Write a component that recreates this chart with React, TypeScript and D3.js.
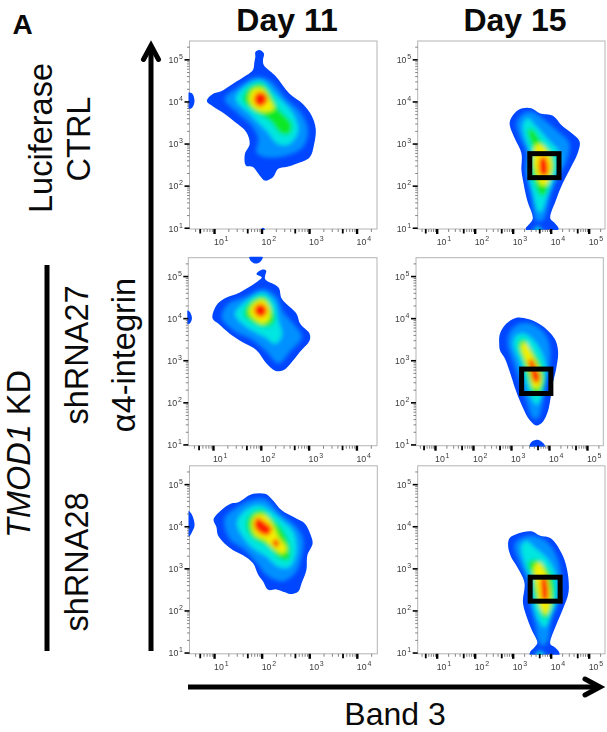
import React, { useEffect, useRef } from 'react';
import * as d3 from 'd3';

type Pt = [number, number];
type Ring = [number, Pt[]];

// all contour points are [log10 Band 3, log10 a4-integrin]
const levelColors = ['#0044ff', '#0090ff', '#00e6e0', '#08e828', '#f4f000', '#ff1e00'];
const decadeLabels = [1, 2, 3, 4, 5];
const day11XDomain: Pt = [0.484, 4.43];
const day15XDomain: Pt = [0.5, 5.43];
const yDomain: Pt = [0.97, 5.436];

// Luciferase CTRL, day 11
const ctrl11Outer: Pt[] = [[0.85,4.01],[0.98,4.18],[1.15,4.24],[1.40,4.42],[1.68,4.62],[1.82,4.75],[1.85,4.94],[1.87,5.06],[1.87,5.17],[1.95,5.22],[2.05,5.14],[2.03,4.98],[2.05,4.86],[2.28,4.62],[2.59,4.18],[2.87,3.94],[3.05,3.67],[3.14,3.35],[3.10,2.95],[3.01,2.67],[2.73,2.52],[2.52,2.44],[2.35,2.40],[2.24,2.20],[2.07,2.12],[1.96,2.24],[1.82,2.44],[1.67,2.48],[1.65,2.75],[1.75,2.99],[1.68,3.27],[1.44,3.51],[1.22,3.71],[0.98,3.88]];
const ctrl11Rings: Ring[] = [
  [1, [[1.22,4.06],[1.51,4.34],[1.89,4.58],[2.17,4.50],[2.52,4.06],[2.84,3.71],[2.98,3.31],[2.87,2.91],[2.52,2.71],[2.10,2.67],[1.89,2.79],[1.93,3.11],[1.79,3.43],[1.51,3.71]]],
  [2, [[1.46,4.06],[1.68,4.38],[2.00,4.50],[2.28,4.18],[2.66,3.71],[2.77,3.31],[2.59,2.99],[2.35,2.99],[2.10,3.31],[1.75,3.71]]],
  [3, [[1.61,4.06],[1.75,4.34],[2.00,4.42],[2.21,4.14],[2.35,3.83],[2.63,3.47],[2.59,3.23],[2.42,3.23],[2.17,3.55],[1.82,3.79]]],
  [4, [[1.74,4.06],[1.82,4.28],[2.02,4.30],[2.17,4.06],[2.26,3.83],[2.10,3.75],[1.86,3.83]]],
  [5, [[1.84,4.08],[1.93,4.22],[2.07,4.18],[2.12,4.02],[2.00,3.88],[1.88,3.93]]],
];
const ctrl11Extras: Pt[][] = [
  [[0.40,4.21],[0.47,4.21],[0.54,4.19],[0.59,4.01],[0.54,3.85],[0.47,3.82],[0.40,3.82]],
  [[1.99,0.9],[1.99,0.96],[2.03,1.0],[2.07,0.96],[2.07,0.9]],
];

// Luciferase CTRL, day 15
const ctrl15Outer: Pt[] = [[2.92,3.48],[3.01,3.68],[3.23,3.83],[3.49,3.84],[3.71,3.72],[4.06,3.66],[4.28,3.44],[4.49,3.29],[4.76,3.05],[4.71,2.77],[4.54,2.45],[4.32,2.06],[4.14,1.66],[3.99,1.22],[4.10,1.12],[4.21,0.97],[4.06,0.90],[3.49,0.90],[3.34,0.97],[3.45,1.10],[3.53,1.22],[3.38,1.66],[3.27,2.13],[3.23,2.37],[3.23,2.77],[3.05,3.13]];
const ctrl15Rings: Ring[] = [
  [1, [[3.10,3.48],[3.23,3.68],[3.49,3.76],[3.84,3.56],[4.19,3.29],[4.49,3.01],[4.41,2.57],[4.19,2.21],[4.01,1.82],[3.88,1.34],[3.79,1.17],[3.62,1.17],[3.53,1.50],[3.45,1.90],[3.36,2.37],[3.36,2.81],[3.18,3.17]]],
  [2, [[3.27,3.44],[3.40,3.60],[3.58,3.44],[3.93,3.09],[4.23,2.77],[4.19,2.37],[4.01,1.98],[3.88,1.66],[3.75,1.38],[3.68,1.38],[3.53,1.82],[3.40,2.29],[3.45,2.77],[3.31,3.17]]],
  [3, [[3.40,3.33],[3.53,3.33],[3.75,3.05],[4.01,2.77],[4.10,2.45],[3.97,2.10],[3.84,1.78],[3.72,1.78],[3.58,2.06],[3.49,2.53],[3.53,2.85]]],
  [4, [[3.62,2.97],[3.75,2.97],[4.01,2.65],[4.01,2.29],[3.88,2.02],[3.75,2.02],[3.62,2.29],[3.55,2.61]]],
  [5, [[3.73,2.65],[3.84,2.69],[3.93,2.49],[3.90,2.25],[3.75,2.25],[3.69,2.45]]],
  [2, [[3.62,1.02],[3.72,1.0],[3.80,0.92],[3.55,0.92]]],
];
const ctrl15Gate = [3.45, 4.22, 2.19, 2.76];

// shRNA27, day 11
const sh27d11Outer: Pt[] = [[0.99,4.00],[1.07,4.30],[1.25,4.47],[1.56,4.61],[1.95,4.89],[2.02,4.97],[1.91,5.05],[2.02,5.15],[2.11,5.13],[2.09,4.93],[2.37,4.73],[2.44,4.46],[2.75,4.10],[2.82,3.87],[3.02,3.63],[3.02,3.47],[2.82,3.20],[2.65,2.96],[2.47,2.76],[2.30,2.75],[2.12,2.92],[1.91,3.24],[1.63,3.42],[1.35,3.63],[1.11,3.87]];
const sh27d11Rings: Ring[] = [
  [1, [[1.18,4.02],[1.32,4.34],[1.67,4.50],[2.05,4.69],[2.33,4.50],[2.47,4.14],[2.68,3.87],[2.86,3.55],[2.61,3.20],[2.37,2.92],[2.12,3.20],[1.84,3.47],[1.42,3.71]]],
  [2, [[1.46,4.10],[1.67,4.38],[2.05,4.60],[2.28,4.38],[2.37,3.94],[2.44,3.59],[2.30,3.39],[2.09,3.55],[1.70,3.79]]],
  [3, [[1.65,4.10],[1.77,4.38],[2.05,4.52],[2.21,4.30],[2.28,3.91],[2.09,3.79],[1.81,3.91]]],
  [4, [[1.76,4.14],[1.86,4.36],[2.05,4.44],[2.18,4.26],[2.17,3.98],[2.05,3.87],[1.86,3.98]]],
  [5, [[1.86,4.22],[1.98,4.34],[2.11,4.26],[2.12,4.13],[2.02,4.02],[1.90,4.08]]],
];
const sh27d11Extras: Pt[][] = [
  [[1.76,5.46],[1.79,5.36],[1.88,5.30],[1.98,5.33],[2.04,5.46]],
  [[0.40,4.18],[0.47,4.18],[0.52,4.14],[0.56,4.0],[0.52,3.88],[0.47,3.86],[0.40,3.86]],
];

// shRNA27, day 15
const sh27d15Outer: Pt[] = [[2.69,3.39],[2.71,3.63],[2.88,3.87],[3.14,4.01],[3.45,3.98],[3.80,3.83],[4.15,3.51],[4.24,3.20],[4.19,2.80],[4.11,2.49],[4.04,2.09],[3.97,1.78],[3.84,1.54],[3.67,1.45],[3.49,1.58],[3.32,1.86],[3.14,2.25],[3.01,2.61],[2.84,3.04],[2.71,3.24]];
const sh27d15Rings: Ring[] = [
  [1, [[2.91,3.39],[2.97,3.67],[3.23,3.87],[3.54,3.87],[3.89,3.63],[4.02,3.35],[4.02,2.88],[3.89,2.41],[3.84,2.02],[3.71,1.62],[3.58,1.62],[3.41,2.02],[3.23,2.49],[3.06,2.96]]],
  [2, [[3.06,3.39],[3.14,3.59],[3.36,3.63],[3.67,3.39],[3.89,2.96],[3.93,2.57],[3.84,2.21],[3.67,1.94],[3.49,2.21],[3.36,2.57],[3.23,2.96]]],
  [3, [[3.19,3.39],[3.32,3.51],[3.49,3.31],[3.76,2.96],[3.87,2.57],[3.80,2.29],[3.62,2.17],[3.47,2.49],[3.32,2.96]]],
  [4, [[3.27,3.35],[3.36,3.42],[3.54,3.16],[3.73,2.80],[3.80,2.53],[3.71,2.33],[3.58,2.37],[3.49,2.72],[3.36,3.04]]],
  [5, [[3.47,3.00],[3.55,3.02],[3.69,2.76],[3.76,2.61],[3.69,2.45],[3.58,2.53],[3.52,2.76]]],
];
const sh27d15Extras: Pt[][] = [
  [[3.49,0.9],[3.49,0.98],[3.54,1.06],[3.69,1.11],[3.84,1.04],[3.89,0.98],[3.89,0.9]],
];
const sh27d15Gate = [3.28, 4.05, 2.21, 2.79];

// shRNA28, day 11
const sh28d11Outer: Pt[] = [[0.99,4.16],[1.15,4.38],[1.36,4.54],[1.51,4.57],[1.79,4.76],[2.07,4.77],[2.21,4.65],[2.42,4.38],[2.70,4.20],[2.91,4.06],[3.03,3.79],[3.07,3.59],[2.96,3.31],[2.94,2.96],[2.84,2.65],[2.77,2.45],[2.59,2.39],[2.49,2.43],[2.31,2.50],[2.14,2.49],[2.03,2.69],[1.93,2.84],[1.82,3.12],[1.61,3.31],[1.40,3.43],[1.22,3.59],[1.08,3.79],[1.05,3.98]];
const sh28d11Rings: Ring[] = [
  [1, [[1.22,4.18],[1.44,4.42],[1.75,4.61],[2.07,4.65],[2.35,4.34],[2.70,4.02],[2.87,3.71],[2.84,3.28],[2.70,2.88],[2.42,2.69],[2.10,2.84],[1.93,3.08],[1.65,3.43],[1.32,3.71]]],
  [2, [[1.48,4.06],[1.62,4.34],[1.93,4.50],[2.17,4.38],[2.42,4.14],[2.66,3.87],[2.73,3.43],[2.59,3.04],[2.35,3.04],[2.10,3.28],[1.75,3.55]]],
  [3, [[1.68,4.06],[1.79,4.30],[2.00,4.39],[2.17,4.22],[2.42,3.94],[2.59,3.51],[2.56,3.20],[2.38,3.24],[2.14,3.51],[1.79,3.75]]],
  [4, [[1.79,4.06],[1.88,4.26],[2.07,4.26],[2.24,4.02],[2.35,3.75],[2.52,3.47],[2.45,3.35],[2.28,3.45],[2.07,3.67],[1.86,3.79]]],
  [5, [[1.84,4.02],[1.91,4.20],[2.07,4.10],[2.21,3.94],[2.14,3.79],[1.96,3.84]]],
  [5, [[2.23,3.63],[2.30,3.69],[2.37,3.59],[2.30,3.50]]],
];
const sh28d11Extras: Pt[][] = [
  [[0.40,4.36],[0.47,4.36],[0.54,4.26],[0.59,4.02],[0.54,3.87],[0.47,3.75],[0.40,3.75]],
];

// shRNA28, day 15
const sh28d15Outer: Pt[] = [[2.88,3.53],[2.92,3.72],[3.14,3.83],[3.49,3.88],[3.71,3.78],[4.01,3.71],[4.28,3.37],[4.43,2.98],[4.47,2.43],[4.32,2.03],[4.14,1.64],[3.99,1.20],[4.10,1.13],[4.23,0.99],[4.19,0.85],[3.49,0.85],[3.45,0.99],[3.58,1.13],[3.65,1.23],[3.49,1.56],[3.36,1.87],[3.27,2.19],[3.31,2.66],[3.10,3.06],[2.95,3.29]];
const sh28d15Rings: Ring[] = [
  [1, [[3.05,3.57],[3.23,3.72],[3.53,3.78],[3.93,3.61],[4.19,3.21],[4.28,2.66],[4.19,2.19],[4.01,1.80],[3.93,1.28],[3.79,1.15],[3.68,1.28],[3.58,1.72],[3.47,2.11],[3.40,2.66],[3.18,3.13]]],
  [2, [[3.23,3.53],[3.36,3.65],[3.58,3.49],[3.93,3.21],[4.14,2.82],[4.17,2.35],[4.06,1.95],[3.84,1.60],[3.66,1.80],[3.53,2.19],[3.49,2.66],[3.31,3.13]]],
  [3, [[3.40,3.09],[3.58,3.21],[3.84,3.06],[4.06,2.74],[4.08,2.27],[3.97,1.95],[3.84,1.80],[3.71,2.03],[3.56,2.43],[3.53,2.82]]],
  [4, [[3.58,3.06],[3.71,3.13],[3.86,2.90],[3.97,2.54],[3.99,2.15],[3.88,1.91],[3.75,2.03],[3.65,2.43]]],
  [5, [[3.75,2.74],[3.84,2.82],[3.93,2.54],[3.90,2.23],[3.79,2.27],[3.75,2.50]]],
  [2, [[3.66,1.02],[3.78,1.02],[3.84,0.92],[3.60,0.92]]],
];
const sh28d15Gate = [3.46, 4.25, 2.22, 2.79];

const App = () => {
  const ref = useRef<SVGSVGElement>(null);

  useEffect(() => {
    drawChart();
  }, []);

  const drawChart = () => {
    const svg = d3.select(ref.current);
    svg.selectAll('*').remove();
    const font = '"Liberation Sans", Arial, sans-serif';

    const defs = svg.append('defs');
    const blur = (id: string, dev: number) =>
      defs.append('filter').attr('id', id)
        .attr('x', '-30%').attr('y', '-30%').attr('width', '160%').attr('height', '160%')
        .append('feGaussianBlur').attr('stdDeviation', dev);
    blur('heat', 2.2);
    blur('soft', 0.5);
    blur('tick', 0.35);

    const panels = [
      { id: 'a', left: 189.5, right: 377, top: 41, xd: day11XDomain, outer: ctrl11Outer, rings: ctrl11Rings, extras: ctrl11Extras, gate: null },
      { id: 'b', left: 417.7, right: 605, top: 41, xd: day15XDomain, outer: ctrl15Outer, rings: ctrl15Rings, extras: [], gate: ctrl15Gate },
      { id: 'c', left: 188.3, right: 377, top: 257.7, xd: day11XDomain, outer: sh27d11Outer, rings: sh27d11Rings, extras: sh27d11Extras, gate: null },
      { id: 'd', left: 416, right: 603.3, top: 257.7, xd: day15XDomain, outer: sh27d15Outer, rings: sh27d15Rings, extras: sh27d15Extras, gate: sh27d15Gate },
      { id: 'e', left: 189.5, right: 377.3, top: 465.8, xd: day11XDomain, outer: sh28d11Outer, rings: sh28d11Rings, extras: sh28d11Extras, gate: null },
      { id: 'f', left: 417.7, right: 605, top: 465.8, xd: day15XDomain, outer: sh28d15Outer, rings: sh28d15Rings, extras: [], gate: sh28d15Gate },
    ];
    const panelHeight = 188;

    panels.forEach(p => {
      const x = d3.scaleLog().domain([10 ** p.xd[0], 10 ** p.xd[1]]).range([p.left, p.right]);
      const y = d3.scaleLog().domain([10 ** yDomain[0], 10 ** yDomain[1]]).range([p.top + panelHeight, p.top]);
      const line = d3.line<Pt>()
        .x(d => x(10 ** d[0]))
        .y(d => y(10 ** d[1]))
        .curve(d3.curveCatmullRomClosed.alpha(0.5));

      const g = svg.append('g');
      g.append('rect')
        .attr('x', p.left).attr('y', p.top)
        .attr('width', p.right - p.left).attr('height', panelHeight)
        .attr('fill', '#fff').attr('stroke', '#b4b4b4').attr('stroke-width', 1);

      defs.append('clipPath').attr('id', `frame-${p.id}`)
        .append('rect')
        .attr('x', p.left - 1).attr('y', p.top - 1)
        .attr('width', p.right - p.left + 2).attr('height', panelHeight + 2);
      defs.append('clipPath').attr('id', `outer-${p.id}`)
        .append('path').attr('d', line(p.outer));

      const plot = g.append('g').attr('clip-path', `url(#frame-${p.id})`);
      const blue = plot.append('g').attr('filter', 'url(#soft)');
      blue.append('path').attr('d', line(p.outer)).attr('fill', levelColors[0]);
      p.extras.forEach(e => {
        blue.append('path').attr('d', line(e)).attr('fill', levelColors[0]);
      });

      const heat = plot.append('g').attr('clip-path', `url(#outer-${p.id})`)
        .append('g').attr('filter', 'url(#heat)');
      p.rings.forEach(([level, pts]) => {
        heat.append('path').attr('d', line(pts)).attr('fill', levelColors[level]);
      });

      // gate box
      if (p.gate) {
        const [x0, x1, y0, y1] = p.gate;
        g.append('rect')
          .attr('x', x(10 ** x0)).attr('y', y(10 ** y1))
          .attr('width', x(10 ** x1) - x(10 ** x0))
          .attr('height', y(10 ** y0) - y(10 ** y1))
          .attr('fill', 'none').attr('stroke', '#000').attr('stroke-width', 5);
      }

      // log ticks: decades and fives are dark, the rest grey
      const logTicks = (dom: number[]) => {
        const vals: number[] = [];
        for (let k = 0; k < 6; k++) {
          for (let m = 1; m < 10; m++) {
            const v = m * 10 ** k;
            if (v >= dom[0] && v <= dom[1]) vals.push(v);
          }
        }
        return vals;
      };
      const tickMantissa = (v: number) => Math.round(v / 10 ** Math.floor(Math.log10(v) + 1e-9));

      const axes = g.append('g').attr('filter', 'url(#tick)');
      const xAxis = axes.append('g')
        .attr('transform', `translate(0,${p.top + panelHeight})`)
        .call(d3.axisBottom(x).tickValues(logTicks(x.domain())).tickFormat(() => '').tickSize(3));
      xAxis.select('.domain').remove();
      xAxis.selectAll<SVGLineElement, number>('line')
        .attr('y2', d => (tickMantissa(d) === 1 ? 5 : tickMantissa(d) === 5 ? 4.5 : 3))
        .attr('stroke', d => (tickMantissa(d) === 1 || tickMantissa(d) === 5 ? '#000' : '#777'))
        .attr('stroke-width', d => (tickMantissa(d) === 1 ? 2.4 : tickMantissa(d) === 5 ? 1.8 : 0.9));

      const yAxis = axes.append('g')
        .attr('transform', `translate(${p.left},0)`)
        .call(d3.axisLeft(y).tickValues(logTicks(y.domain())).tickFormat(() => '').tickSize(2.5));
      yAxis.select('.domain').remove();
      yAxis.selectAll<SVGLineElement, number>('line')
        .attr('x2', d => (tickMantissa(d) === 1 ? -5 : -2.5))
        .attr('stroke', d => (tickMantissa(d) === 1 ? '#000' : '#666'))
        .attr('stroke-width', d => (tickMantissa(d) === 1 ? 1.6 : 0.8));

      const power = (sel: any, px: number, py: number, e: number) => {
        const t = sel.append('text')
          .attr('x', px).attr('y', py)
          .attr('font-family', font).attr('font-size', 8.8).attr('fill', '#3c3c3c');
        t.append('tspan').text('10');
        t.append('tspan').attr('dx', 0.8).attr('dy', -4).attr('font-size', 7).text(e);
      };
      decadeLabels.forEach(e => {
        power(axes, p.left - 21, y(10 ** e) + 3.8, e);
        if (10 ** e <= x.domain()[1]) {
          power(axes, x(10 ** e), p.top + panelHeight + 16, e);
        }
      });
    });

    // headings and side labels
    const label = (txt: string, px: number, py: number, size: number, weight = 'normal', rotate = false) =>
      svg.append('text')
        .attr('transform', rotate ? `translate(${px},${py}) rotate(-90)` : `translate(${px},${py})`)
        .attr('text-anchor', 'middle')
        .attr('font-family', font).attr('font-size', size).attr('font-weight', weight)
        .attr('fill', '#0a0a0a').text(txt);

    label('A', 22.5, 34, 28, 'bold');
    label('Day 11', 287, 31, 32, 'bold');
    label('Day 15', 515, 31, 32, 'bold');
    label('Luciferase', 52, 138, 32.5, 'normal', true);
    label('CTRL', 90, 139, 32.5, 'normal', true);
    label('shRNA27', 88, 355, 32.5, 'normal', true);
    label('shRNA28', 88, 562, 32.5, 'normal', true);
    label('α4-integrin', 135, 355, 32.5, 'normal', true);
    label('Band 3', 395, 725, 32);

    const kd = label('', 30, 454, 32.5, 'normal', true);
    kd.append('tspan').attr('font-style', 'italic').text('TMOD1');
    kd.append('tspan').text(' KD');

    // bracket line and the two axis arrows
    const strokes = svg.append('g').attr('stroke', '#000').attr('fill', 'none').attr('stroke-width', 5);
    strokes.append('line').attr('x1', 47).attr('x2', 47).attr('y1', 265).attr('y2', 651);
    strokes.append('line').attr('x1', 151).attr('x2', 151).attr('y1', 651).attr('y2', 46);
    strokes.append('path').attr('d', 'M143.5,59.5 L151,45.5 L158.5,59.5').attr('stroke-linecap', 'round');
    strokes.append('line').attr('x1', 188).attr('x2', 600).attr('y1', 687).attr('y2', 687);
    strokes.append('path').attr('d', 'M585,679 L600,687 L585,695').attr('stroke-linecap', 'round');
  };

  return (
    <svg
      ref={ref}
      width={607}
      height={732}
      style={{ position: 'absolute', left: 0, top: 0, background: '#fff' }}
    />
  );
};

export default App;
